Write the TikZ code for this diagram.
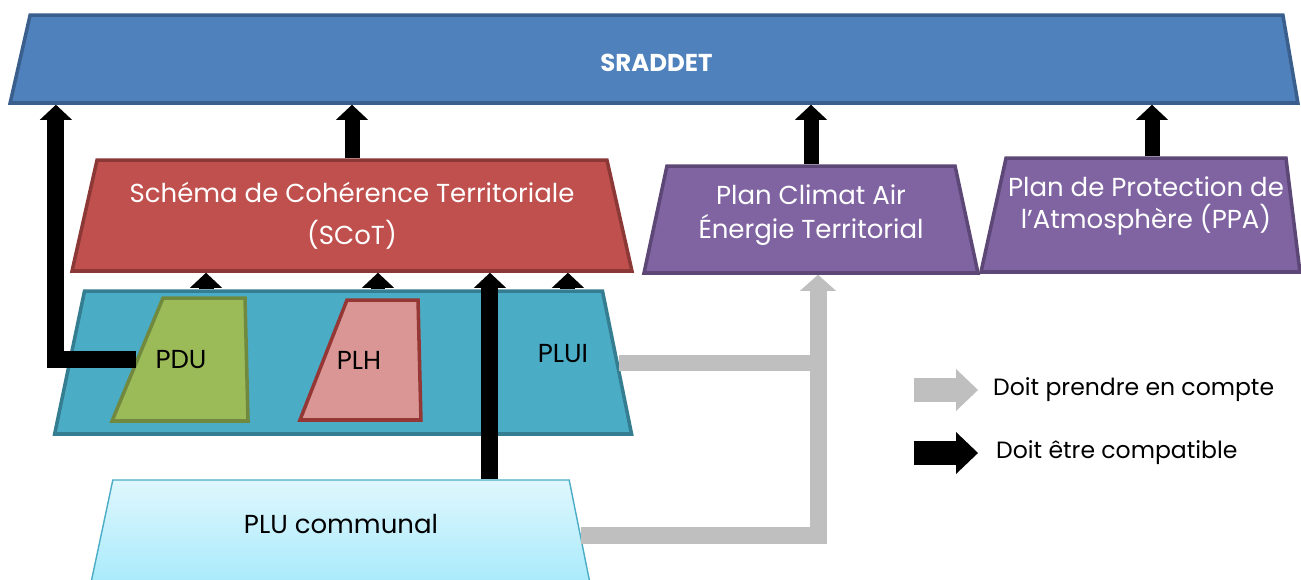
\documentclass[tikz,border=0pt]{standalone}
\usepackage{fontspec}
\setmainfont{Poppins}
\usepackage{tikz}
\usetikzlibrary{shapes.geometric,arrows.meta,positioning}

\definecolor{sradfill}{HTML}{4F81BD}
\definecolor{sradline}{HTML}{3B5F8D}
\definecolor{scotfill}{HTML}{C0504D}
\definecolor{scotline}{HTML}{8C3836}
\definecolor{planfill}{HTML}{8064A2}
\definecolor{planline}{HTML}{5C4776}
\definecolor{pluifill}{HTML}{4BACC6}
\definecolor{pluiline}{HTML}{357D91}
\definecolor{pdufill}{HTML}{9BBB59}
\definecolor{pduline}{HTML}{71893F}
\definecolor{plhfill}{HTML}{D99694}
\definecolor{plhline}{HTML}{953735}
\definecolor{plutop}{HTML}{DFF7FD}
\definecolor{plubot}{HTML}{A5E9FB}
\definecolor{grisarr}{HTML}{BFBFBF}

\begin{document}
\begin{tikzpicture}[
    x=0.02cm, y=-0.02cm,
    doc/.style={trapezium, trapezium stretches body=true, draw, line width=2pt,
                inner xsep=0pt, text height=0pt, text depth=0pt},
    plantext/.style={text=white, align=center, font=\fontsize{14.8}{23.9}\selectfont},
    innertext/.style={font=\fontsize{14.8}{18}\selectfont},
    compat/.style={line width=0.3cm, -{Triangle[width=0.64cm,length=0.3cm,line width=0pt]}},
    prise/.style={line width=0.34cm, draw=grisarr, -{Triangle[width=0.72cm,length=0.32cm,line width=0pt]}},
    priseline/.style={line width=0.32cm, draw=grisarr},
    legarrow/.style={line width=0.48cm, -{Triangle[width=0.84cm,length=0.44cm,line width=0pt]}},
    legtext/.style={anchor=west, font=\fontsize{13.4}{16}\selectfont}
]
    \useasboundingbox (0,0) rectangle (1301,579);
    \clip (0,0) rectangle (1301,579);

    % documents
    \node[doc, fill=sradfill, draw=sradline, minimum width=25.76cm, inner ysep=0.88cm,
          trapezium left angle=77.2, trapezium right angle=80.3] (sraddet) at (656.5,59) {};
    \node[doc, fill=scotfill, draw=scotline, minimum width=11.2cm, inner ysep=1.11cm,
          trapezium left angle=77.3, trapezium right angle=77.3] (scot) at (352,215.5) {};
    \node[doc, fill=planfill, draw=planline, minimum width=6.68cm, inner ysep=1.07cm,
          trapezium left angle=77.9, trapezium right angle=77.9] (pcaet) at (811,219.5) {};
    \node[doc, fill=planfill, draw=planline, minimum width=6.38cm, inner ysep=1.14cm,
          trapezium left angle=77.6, trapezium right angle=83] (ppa) at (1146,215) {};
    \node[doc, fill=pluifill, draw=pluiline, minimum width=11.54cm, inner ysep=1.43cm,
          trapezium left angle=78.2, trapezium right angle=78.5] (plui) at (343.5,362.5) {};
    \node[doc, fill=pdufill, draw=pduline, minimum width=2.72cm, inner ysep=1.23cm,
          trapezium left angle=67.5, trapezium right angle=88.6] (pdu) at (204,359.5) {};
    \node[doc, fill=plhfill, draw=plhline, minimum width=2.42cm, inner ysep=1.2cm,
          trapezium left angle=68.6, trapezium right angle=88.6] (plh) at (382.5,360) {};
    \node[doc, top color=plutop, bottom color=plubot, draw=pluifill, line width=0.8pt,
          minimum width=10.04cm, inner ysep=1.1cm,
          trapezium left angle=78, trapezium right angle=78.6] (plu) at (341,535) {};

    % textes
    \node[plantext, font=\bfseries\fontsize{13.9}{16}\selectfont, yshift=-0.08cm] (sraddettxt) at (sraddet) {SRADDET};
    \node[plantext] (scottxt) at (scot) {Schéma de Cohérence Territoriale\\(SCoT)};
    \node[plantext, font=\fontsize{14.8}{19.3}\selectfont, yshift=0.08cm] (pcaettxt) at (pcaet) {Plan Climat Air\\Énergie Territorial};
    \node[plantext, font=\fontsize{14.8}{18.2}\selectfont, yshift=0.18cm] (ppatxt) at (ppa) {Plan de Protection de\\l’Atmosphère (PPA)};
    \node[innertext, xshift=-0.46cm] (pdutxt) at (pdu) {PDU};
    \node[innertext, xshift=-0.47cm] (plhtxt) at (plh) {PLH};
    \node[innertext] (pluitxt) at (563,354) {PLUI};
    \node[innertext, yshift=0.22cm] (plutxt) at (plu) {PLU communal};

    % prise en compte
    \draw[priseline] (plui.east) -- ([xshift=0.14cm]pcaet.south |- plui.east);
    \draw[prise] (plu.east) -| ([xshift=0.14cm]pcaet.south);

    % compatibilite
    \draw[compat] (scot.north) -- (sraddet.south -| scot.north);
    \draw[compat] (pcaet.north) -- (sraddet.south -| pcaet.north);
    \draw[compat] ([xshift=0.12cm]ppa.north) -- ([xshift=0.12cm]sraddet.south -| ppa.north);
    \foreach \dx in {-2.75cm,0.69cm,4.49cm}
        \draw[compat] ([xshift=\dx]plui.north) -- ([xshift=\dx]scot.south -| plui.north);
    \draw[compat, line width=0.34cm] (pdu.west) -| ([xshift=0.96cm]sraddet.bottom left corner);
    \draw[compat, line width=0.34cm] ([xshift=2.98cm]plu.north) -- ([xshift=2.98cm]scot.south -| plu.north);

    % legende
    \node[legtext] (legprise) at (987,390) {Doit prendre en compte};
    \node[legtext] (legcompat) at (990,453) {Doit être compatible};
    \draw[legarrow, draw=grisarr, fill=grisarr] ([xshift=-1.46cm]legprise.west) -- ([xshift=-0.18cm]legprise.west);
    \draw[legarrow] ([xshift=-1.52cm]legcompat.west) -- ([xshift=-0.24cm]legcompat.west);
\end{tikzpicture}
\end{document}
